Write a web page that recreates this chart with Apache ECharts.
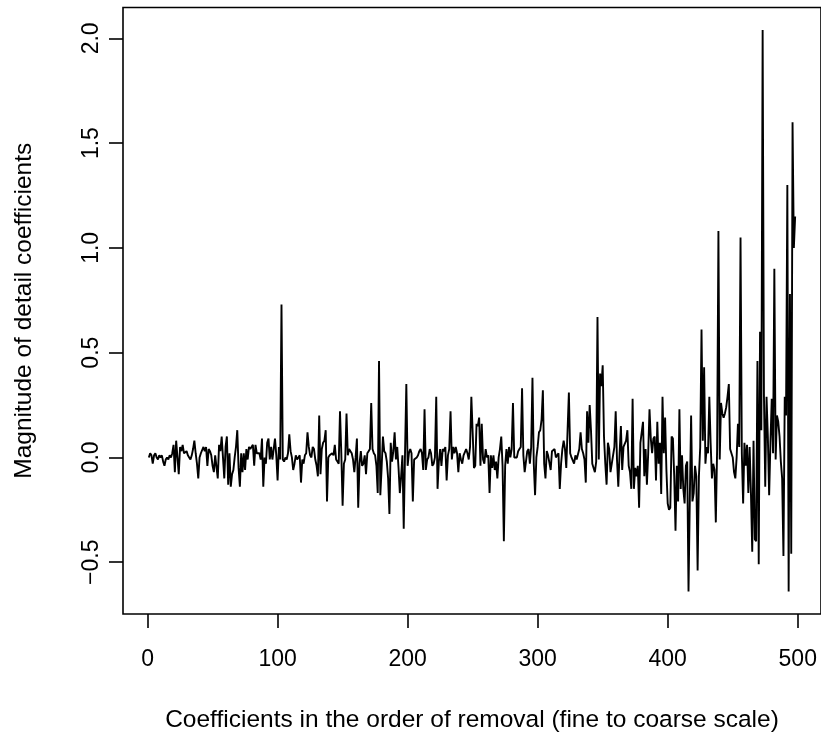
<!DOCTYPE html>
<html>
<head>
<meta charset="utf-8">
<script src="https://cdn.jsdelivr.net/npm/echarts@6/dist/echarts.min.js"></script>
<style>
html,body{margin:0;padding:0;background:#fff;}
#chart{width:821px;height:738px;}
</style>
</head>
<body>
<div id="chart"></div>
<script>
// Magnitude of detail coefficients, in order of removal (index 1..n)
const magnitude = [
 0.00, 0.02, 0.01,-0.03, 0.01, 0.02, 0.00,-0.01, 0.01, 0.00,
 0.01,-0.02,-0.04,-0.01, 0.00,-0.01, 0.01, 0.00, 0.02, 0.06,
-0.07, 0.08, 0.00,-0.08, 0.05, 0.03, 0.06, 0.02, 0.02, 0.03,
 0.01, 0.00,-0.01, 0.01, 0.04, 0.08, 0.02,-0.03,-0.10, 0.00,
 0.02, 0.02, 0.05, 0.03, 0.05,-0.04, 0.04, 0.03, 0.01,-0.04,
-0.07, 0.01, 0.01,-0.10, 0.06, 0.03, 0.10, 0.00,-0.10, 0.05,
 0.10,-0.13, 0.02,-0.14,-0.08,-0.06, 0.00, 0.05, 0.13,-0.05,
-0.14, 0.02,-0.07, 0.02,-0.06, 0.04,-0.01, 0.05, 0.04, 0.04,
 0.06,-0.04, 0.06, 0.02, 0.02, 0.02,-0.01, 0.09,-0.14, 0.00,
-0.03, 0.07, 0.09,-0.01, 0.05,-0.01, 0.04, 0.09, 0.01,-0.11,
 0.05,-0.01, 0.73,-0.01,-0.02, 0.00,-0.01, 0.02, 0.11, 0.03,
 0.00,-0.06,-0.03, 0.01,-0.01, 0.00, 0.01,-0.12,-0.01,-0.03,
 0.01, 0.02, 0.12, 0.05, 0.01, 0.00, 0.05, 0.04,-0.01,-0.04,
-0.09, 0.20,-0.08, 0.04, 0.07, 0.08, 0.13,-0.21, 0.00, 0.01,
 0.01, 0.02, 0.01, 0.06,-0.01,-0.02,-0.03, 0.22, 0.02,-0.23,
-0.03,-0.01, 0.21, 0.01, 0.04, 0.03, 0.02,-0.01,-0.07, 0.00,
 0.09,-0.24,-0.03, 0.03,-0.04,-0.03, 0.01,-0.08, 0.02, 0.03,
 0.04, 0.26, 0.04, 0.02, 0.01,-0.04,-0.17, 0.46,-0.18,-0.05,
 0.10, 0.03, 0.02,-0.02,-0.10,-0.27, 0.07,-0.02, 0.03, 0.12,
-0.01, 0.05,-0.05,-0.17,-0.09, 0.01,-0.34, 0.02, 0.35,-0.04,
 0.02, 0.04, 0.02,-0.21,-0.01,-0.01, 0.00, 0.01, 0.03, 0.04,
 0.02,-0.06, 0.23,-0.06,-0.01, 0.00, 0.04, 0.02,-0.04,-0.03,
 0.00, 0.29,-0.15,-0.02, 0.04,-0.04, 0.04, 0.03, 0.05,-0.11,
 0.01, 0.04, 0.22,-0.01, 0.05, 0.02, 0.05, 0.02,-0.07, 0.02,
-0.01,-0.03, 0.01, 0.01, 0.04, 0.02,-0.01, 0.05, 0.29, 0.12,
-0.05,-0.04, 0.16, 0.15, 0.19,-0.04, 0.16,-0.01,-0.03, 0.04,
 0.00, 0.01,-0.17, 0.01,-0.05, 0.01,-0.06,-0.02,-0.10, 0.00,
 0.04, 0.10,-0.04,-0.40,-0.04, 0.04,-0.03, 0.05, 0.00, 0.04,
 0.26, 0.00, 0.00, 0.00, 0.03, 0.04, 0.05, 0.33, 0.01,-0.07,
-0.07, 0.03, 0.04,-0.03, 0.05, 0.38,-0.03,-0.18, 0.00, 0.05,
 0.12, 0.13, 0.18, 0.32,-0.03,-0.10, 0.03, 0.01, 0.01,-0.06,
 0.03, 0.03, 0.04, 0.00, 0.01, 0.02,-0.15,-0.03, 0.04, 0.08,
 0.04,-0.05, 0.13, 0.31, 0.02, 0.00, 0.00,-0.03, 0.01,-0.01,
-0.01, 0.04, 0.12, 0.04, 0.02,-0.01,-0.12, 0.22, 0.07, 0.25,
 0.13,-0.03,-0.05,-0.07,-0.02, 0.67,-0.01, 0.40, 0.34, 0.44,
 0.10,-0.03,-0.13, 0.07, 0.04,-0.07,-0.03,-0.03, 0.05, 0.22,
-0.01,-0.14, 0.02, 0.15,-0.06, 0.05, 0.05, 0.08, 0.13,-0.04,
-0.07,-0.15, 0.28,-0.15,-0.05,-0.09,-0.04,-0.24, 0.07, 0.07,
 0.17,-0.09, 0.04,-0.13, 0.02, 0.23, 0.09, 0.02, 0.09, 0.10,
-0.11, 0.17,-0.03, 0.07,-0.175,0.29, 0.02, 0.19,-0.06,-0.22,
-0.25,-0.24, 0.10, 0.09,-0.09,-0.35,-0.04,-0.21, 0.23,-0.15,
 0.01,-0.15,-0.22,-0.04,-0.02,-0.64,-0.20, 0.20,-0.21,-0.17,
-0.04,-0.09,-0.54,-0.09, 0.05, 0.61, 0.08, 0.43,-0.03, 0.05,
 0.02, 0.29, 0.07,-0.10,-0.03,-0.06,-0.31, 0.04, 1.08,-0.01,
 0.26, 0.21, 0.19, 0.21, 0.24, 0.29, 0.35, 0.04, 0.04, 0.00,
-0.07,-0.10, 0.00, 0.16, 0.05, 1.05, 0.02,-0.22, 0.07,-0.04,
 0.06,-0.17, 0.05,-0.17,-0.45, 0.08,-0.39,-0.40, 0.46,-0.51,
 0.60, 0.13, 2.04, 0.30,-0.14, 0.29, 0.10,-0.18, 0.07, 0.28,
 0.02, 0.90,-0.01, 0.20, 0.17, 0.10,-0.02,-0.10,-0.47, 0.29,
 0.20, 1.30,-0.64, 0.78,-0.46, 1.60, 1.00, 1.15
];
const xTicks = [0, 100, 200, 300, 400, 500];
const yTicks = [-0.5, 0.0, 0.5, 1.0, 1.5, 2.0];
const xTitle = 'Coefficients in the order of removal (fine to coarse scale)';
const yTitle = 'Magnitude of detail coefficients';

const n = magnitude.length;
const points = magnitude.map((v, i) => [i + 1, v]);
// R-style 4% axis extension
const xPad = 0.04 * (n - 1);
const yMin = Math.min(...magnitude), yMax = Math.max(...magnitude);
const yPad = 0.04 * (yMax - yMin);

const font = '"Liberation Sans", Arial, Helvetica, sans-serif';
const chart = echarts.init(document.getElementById('chart'), null, {renderer: 'canvas'});
chart.setOption({
  animation: false,
  backgroundColor: '#ffffff',
  grid: {
    left: 123, right: -3, top: 7.5, bottom: 118,
    show: true, borderColor: '#000', borderWidth: 1.6, backgroundColor: 'transparent'
  },
  xAxis: {
    type: 'value',
    min: 1 - xPad, max: n + xPad,
    axisLine: {show: false, onZero: false},
    splitLine: {show: false},
    axisTick: {show: true, inside: false, length: 14, customValues: xTicks,
      lineStyle: {color: '#000', width: 1.6}},
    axisLabel: {customValues: xTicks, margin: 34, color: '#000',
      fontFamily: font, fontSize: 23, formatter: v => String(v)},
    name: xTitle, nameLocation: 'middle', nameGap: 94,
    nameTextStyle: {color: '#000', fontFamily: font, fontSize: 24.5}
  },
  yAxis: {
    type: 'value',
    min: yMin - yPad, max: yMax + yPad,
    axisLine: {show: false, onZero: false},
    splitLine: {show: false},
    axisTick: {show: true, inside: false, length: 14, customValues: yTicks,
      lineStyle: {color: '#000', width: 1.6}},
    axisLabel: {customValues: yTicks, margin: 20, rotate: 90, color: '#000',
      fontFamily: font, fontSize: 23,
      formatter: v => (v < 0 ? '\u2212' : '') + Math.abs(v).toFixed(1)},
    name: yTitle, nameLocation: 'middle', nameGap: 86, nameRotate: 90,
    nameTextStyle: {color: '#000', fontFamily: font, fontSize: 24.5}
  },
  series: [{
    type: 'line',
    data: points,
    showSymbol: false,
    symbol: 'none',
    lineStyle: {color: '#000', width: 1.9},
    clip: true
  }]
});
</script>
</body>
</html>
